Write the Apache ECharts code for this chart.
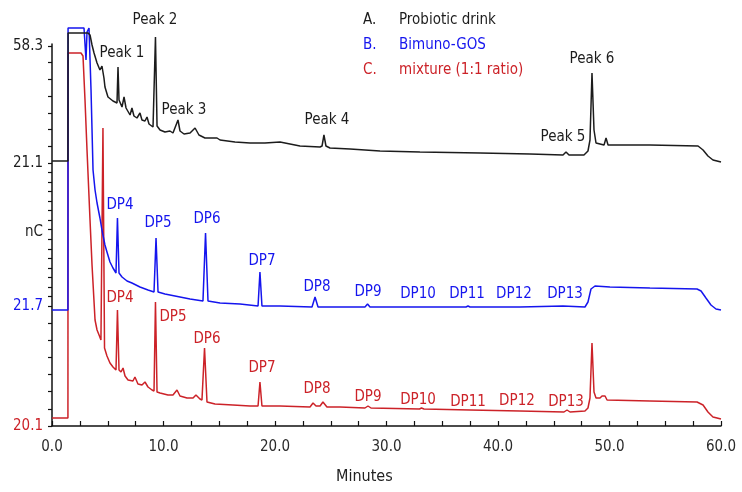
<!DOCTYPE html>
<html>
<head>
<meta charset="utf-8">
<title>Chromatogram</title>
<script src="https://cdn.jsdelivr.net/npm/echarts@6/dist/echarts.min.js"></script>
<style>
  html, body { margin: 0; padding: 0; background: #fff; }
  #main { width: 742px; height: 492px; }
</style>
</head>
<body>
<div id="main"></div>
<script>
// 时间（分钟）, 信号（叠加后的偏移单位）
var traceA = [
  [0, 265], [1.43, 265], [1.44, 393], [3.23, 393], [3.41, 391], [3.59, 381], [3.77, 373], [4.04, 363],
  [4.30, 356], [4.48, 360], [4.66, 348], [4.75, 339], [5.02, 329], [5.47, 325], [5.83, 323], [5.92, 359],
  [6.01, 326], [6.28, 319], [6.46, 329], [6.64, 318], [7.0, 311], [7.17, 318], [7.35, 310], [7.62, 308],
  [7.89, 313], [8.07, 306], [8.34, 305], [8.52, 309], [8.70, 302], [9.06, 299], [9.28, 389], [9.42, 300],
  [9.69, 296], [10.13, 294], [10.58, 295], [10.85, 293], [11.30, 306], [11.48, 295], [11.84, 292],
  [12.38, 293], [12.83, 298], [13.18, 291], [13.72, 288], [14.80, 288], [15.07, 286], [16.41, 284],
  [17.76, 283], [19.10, 283], [20.45, 284], [22.24, 280], [24.04, 279], [24.22, 280], [24.39, 291],
  [24.57, 280], [24.93, 278], [26.73, 277], [29.42, 275], [33.0, 274], [38.39, 273], [42.87, 272],
  [45.83, 271], [46.10, 274], [46.37, 271], [47.71, 271], [48.07, 275], [48.25, 286], [48.43, 353],
  [48.61, 296], [48.79, 283], [49.51, 281], [49.69, 288], [49.87, 281], [53.63, 281], [57.94, 280],
  [58.39, 276], [58.83, 270], [59.28, 266], [60.0, 264]
];
var traceB = [
  [0, 116], [1.43, 116], [1.44, 398], [2.87, 398], [2.96, 398], [3.05, 366], [3.14, 394], [3.32, 398],
  [3.50, 336], [3.68, 256], [3.86, 236], [4.04, 223], [4.30, 208], [4.48, 196], [4.75, 181], [4.93, 174],
  [5.20, 164], [5.47, 158], [5.74, 153], [5.87, 208], [6.01, 153], [6.28, 149], [6.73, 145], [7.17, 143],
  [7.89, 139], [8.61, 136], [9.15, 134], [9.33, 188], [9.51, 134], [10.13, 132], [11.03, 130],
  [12.38, 127], [13.54, 125], [13.77, 193], [13.99, 125], [15.07, 123], [16.86, 122], [18.48, 120],
  [18.65, 154], [18.83, 120], [20.45, 120], [23.32, 119], [23.59, 129], [23.86, 119], [24.93, 119],
  [28.07, 119], [28.30, 122], [28.52, 119], [32.83, 119], [33.0, 121], [33.18, 119], [37.13, 119],
  [37.31, 120], [37.49, 119], [41.97, 119], [45.83, 120], [47.80, 119], [48.07, 124], [48.34, 137],
  [48.70, 140], [50.04, 139], [53.63, 138], [57.85, 137], [58.21, 135], [58.65, 128], [59.10, 121],
  [59.55, 117], [60.0, 116]
];
var traceC = [
  [0, 8], [1.43, 8], [1.44, 373], [2.60, 373], [2.78, 370], [2.96, 326], [3.14, 276], [3.41, 206],
  [3.59, 161], [3.86, 106], [4.04, 96], [4.22, 91], [4.39, 86], [4.57, 298], [4.71, 78], [4.93, 70],
  [5.20, 63], [5.47, 59], [5.74, 56], [5.87, 116], [6.01, 56], [6.19, 54], [6.37, 58], [6.55, 50],
  [6.82, 46], [7.26, 45], [7.44, 49], [7.71, 42], [8.07, 41], [8.34, 44], [8.61, 39], [8.97, 36],
  [9.15, 35], [9.28, 124], [9.42, 34], [9.69, 33], [10.40, 31], [10.85, 31], [11.21, 36], [11.48, 30],
  [12.11, 28], [12.65, 28], [12.91, 31], [13.27, 27], [13.45, 26], [13.68, 78], [13.90, 24],
  [14.62, 22], [16.23, 21], [17.76, 20], [18.48, 20], [18.65, 44], [18.83, 20], [20.45, 20],
  [23.14, 19], [23.41, 23], [23.68, 20], [24.04, 20], [24.30, 24], [24.66, 19], [25.83, 19],
  [28.07, 18], [28.34, 20], [28.61, 18], [32.96, 17], [33.14, 18], [33.36, 17], [37.49, 16],
  [41.97, 15], [45.92, 14], [46.19, 16], [46.46, 14], [47.80, 15], [48.07, 18], [48.25, 28],
  [48.43, 83], [48.61, 34], [48.79, 28], [49.15, 28], [49.33, 30], [49.42, 28], [49.60, 30],
  [49.78, 26], [53.63, 25], [57.85, 24], [58.39, 21], [58.83, 14], [59.28, 9], [60.0, 7]
];

// 峰的标注 [时间, 位置, 文字]
var labelsA = [
  [6.28, 373, 'Peak 1'], [9.24, 406, 'Peak 2'], [11.84, 316, 'Peak 3'],
  [24.66, 306, 'Peak 4'], [45.83, 289, 'Peak 5'], [48.43, 367, 'Peak 6']
];
var labelsB = [
  [6.10, 221, 'DP4'], [9.51, 203, 'DP5'], [13.90, 207, 'DP6'], [18.83, 165, 'DP7'],
  [23.77, 139, 'DP8'], [28.34, 134, 'DP9'], [32.83, 132, 'DP10'], [37.22, 132, 'DP11'],
  [41.43, 132, 'DP12'], [46.01, 132, 'DP13']
];
var labelsC = [
  [6.10, 128, 'DP4'], [10.85, 109, 'DP5'], [13.90, 87, 'DP6'], [18.83, 58, 'DP7'],
  [23.77, 37, 'DP8'], [28.34, 29, 'DP9'], [32.83, 26, 'DP10'], [37.31, 24, 'DP11'],
  [41.70, 25, 'DP12'], [46.10, 24, 'DP13']
];

var legendKeys = ['A.', 'B.', 'C.'];
var legendNames = ['Probiotic drink', 'Bimuno-GOS', 'mixture (1:1 ratio)'];

// 坐标轴刻度
var xTickLabels = [0, 10, 20, 30, 40, 50, 60];
var xMinorTicks = [0, 2.5, 5, 7.5, 10, 12.5, 15, 17.5, 20, 22.5, 25, 27.5, 30, 32.5, 35, 37.5,
  40, 42.5, 45, 47.5, 50, 52.5, 55, 57.5, 60];
var yLabelPos = [0, 120, 194, 263, 380];
var yLabelText = ['20.1', '21.7', 'nC', '21.1', '58.3'];

var colors = ['#1c1c1c', '#1515ee', '#cc2228'];
var yLabelColor = [colors[2], colors[1], colors[0], colors[0], colors[0]];
var font = "'Liberation Sans Narrow', 'DejaVu Sans Condensed', 'Noto Sans', sans-serif";

// y轴刻度分三段
var ySeg = [[0, 120, 7], [120, 263, 15], [263, 380, 7]];
var yTicks = [];
ySeg.forEach(function (s) {
  for (var i = 0; i < s[2]; i++) yTicks.push(s[0] + (s[1] - s[0]) * i / s[2]);
});
yTicks.push(380);

function lineSeries(data, color) {
  return {
    type: 'line',
    data: data,
    symbol: 'none',
    clip: false,
    silent: true,
    lineStyle: { color: color, width: 1.5 }
  };
}

function labelSeries(data, color) {
  return {
    type: 'scatter',
    data: data.map(function (d) {
      return { value: [d[0], d[1]], name: d[2] };
    }),
    symbolSize: 1,
    clip: false,
    silent: true,
    itemStyle: { color: 'rgba(0,0,0,0)', opacity: 1 },
    label: {
      show: true,
      position: 'inside',
      formatter: '{b}',
      color: color,
      opacity: 1,
      fontFamily: font,
      fontSize: 15
    }
  };
}

var chart = echarts.init(document.getElementById('main'));

var graphics = [];
legendKeys.forEach(function (k, i) {
  graphics.push({
    type: 'text', left: 363, top: 13 + i * 25,
    style: { text: k, fill: colors[i], font: '15px ' + font }
  });
  graphics.push({
    type: 'text', left: 399, top: 13 + i * 25,
    style: { text: legendNames[i], fill: colors[i], font: '15px ' + font }
  });
});
graphics.push({
  type: 'text', left: 336, top: 469,
  style: { text: 'Minutes', fill: '#222', font: '16px ' + font }
});

var option = {
  animation: false,
  backgroundColor: '#fff',
  grid: { left: 52, right: 21, top: 44, bottom: 66 },
  xAxis: {
    type: 'value',
    min: 0,
    max: 60,
    interval: 10,
    splitLine: { show: false },
    axisLine: { lineStyle: { color: '#111', width: 1.5 } },
    axisTick: {
      inside: true,
      length: 5,
      customValues: xMinorTicks,
      lineStyle: { color: '#111', width: 1.2 }
    },
    axisLabel: {
      customValues: xTickLabels,
      formatter: function (v) { return v.toFixed(1); },
      color: '#2a2a2a',
      fontFamily: font,
      fontSize: 15,
      margin: 14
    }
  },
  yAxis: {
    type: 'value',
    min: 0,
    max: 382,
    splitLine: { show: false },
    axisLine: { show: true, lineStyle: { color: '#111', width: 1.5 } },
    axisTick: {
      show: true,
      length: 4,
      customValues: yTicks,
      lineStyle: { color: '#111', width: 1.2 }
    },
    axisLabel: {
      customValues: yLabelPos,
      formatter: function (v) {
        var i = yLabelPos.indexOf(v);
        return i >= 0 ? yLabelText[i] : '';
      },
      color: function (v) {
        var i = yLabelPos.indexOf(Number(v));
        return i >= 0 ? yLabelColor[i] : '#222';
      },
      fontFamily: font,
      fontSize: 15,
      margin: 9
    }
  },
  graphic: graphics,
  series: [
    lineSeries(traceC, colors[2]),
    lineSeries(traceB, colors[1]),
    lineSeries(traceA, colors[0]),
    labelSeries(labelsA, colors[0]),
    labelSeries(labelsB, colors[1]),
    labelSeries(labelsC, colors[2])
  ]
};

chart.setOption(option);
window.onresize = function () {
  chart.resize();
};
</script>
</body>
</html>
